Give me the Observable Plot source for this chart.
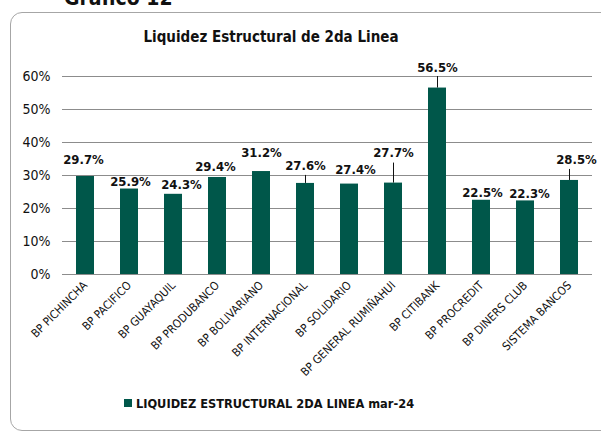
<!DOCTYPE html>
<html>
<head>
<meta charset="utf-8">
<script src="https://cdn.jsdelivr.net/npm/d3@7"></script>
<script src="https://cdn.jsdelivr.net/npm/@observablehq/plot@0.6"></script>
<style>
  html, body { margin: 0; padding: 0; background: #fff; }
  #wrap { position: relative; width: 601px; height: 436px; overflow: hidden; font-family: "DejaVu Sans Condensed", "DejaVu Sans", sans-serif; font-stretch: condensed; }
  #frame { position: absolute; left: 10px; top: 12px; width: 610px; height: 419px; border: 1.3px solid #a6a6a6; border-radius: 12px; box-sizing: border-box; }
  #grafico { position: absolute; left: 64px; top: -14px; font-size: 21px; font-weight: bold; color: #111; }
  #title { position: absolute; left: 0; width: 542px; top: 28px; text-align: center; font-size: 15px; font-weight: bold; color: #111; }
  #chart { position: absolute; left: 0; top: 0; }
  #legend { position: absolute; left: 0; width: 538px; top: 396px; text-align: center; font-size: 12.7px; font-weight: bold; color: #111; }
  #legend .sw { display: inline-block; width: 8px; height: 8px; background: #00574a; margin-right: 4px; vertical-align: 1px; }
</style>
</head>
<body>
<div id="wrap">
  <div id="grafico">Gráfico 12</div>
  <div id="frame"></div>
  <div id="title">Liquidez Estructural de 2da Linea</div>
  <div id="chart"></div>
  <div id="legend"><span class="sw"></span>LIQUIDEZ ESTRUCTURAL 2DA LINEA mar-24</div>
</div>
<script>
const categories = ["BP PICHINCHA", "BP PACIFICO", "BP GUAYAQUIL", "BP PRODUBANCO", "BP BOLIVARIANO", "BP INTERNACIONAL", "BP SOLIDARIO", "BP GENERAL RUMIÑAHUI", "BP CITIBANK", "BP PROCREDIT", "BP DINERS CLUB", "SISTEMA BANCOS"];
const values = [29.7, 25.9, 24.3, 29.4, 31.2, 27.6, 27.4, 27.7, 56.5, 22.5, 22.3, 28.5];
const yTicks = [0, 10, 20, 30, 40, 50, 60];
const seriesName = "LIQUIDEZ ESTRUCTURAL 2DA LINEA mar-24";

// label placement (annotation layout, pixels)
const labelLift = [12, 3.5, 5, 6, 15, 13, 10, 26, 16, 3, 3, 16];
const labelShift = [-2, 1, 8, -2, 0, 0, 6, 0, 0, 1, 4, 7];
const leaderLen = [0, 0, 0, 0, 0, 8, 0, 20, 11.5, 0, 0, 11];

const data = categories.map((c, i) => ({category: c, value: values[i], lift: labelLift[i], shift: labelShift[i], leader: leaderLen[i]}));

const H = 380, MT = 76, MB = 106;
const pxPerUnit = (H - MT - MB) / 60;

const labelMarks = data.map(d => Plot.text([d], {
  x: "category", y: "value", text: d => d.value.toFixed(1) + "%",
  dy: -d.lift, dx: d.shift, lineAnchor: "bottom",
  fontSize: 13, fontWeight: "bold", fill: "#111"
}));

const chart = Plot.plot({
  width: 601, height: H,
  marginTop: MT, marginBottom: MB, marginLeft: 62, marginRight: 9,
  style: {fontFamily: "'DejaVu Sans Condensed', 'DejaVu Sans', sans-serif", background: "transparent", color: "#111"},
  x: {domain: categories, paddingInner: 0.6, paddingOuter: 0.3, label: null},
  y: {domain: [0, 60], label: null},
  marks: [
    Plot.gridY(yTicks, {stroke: "#8c8c8c", strokeOpacity: 1, strokeWidth: 1}),
    Plot.barY(data, {x: "category", y: "value", fill: "#00574a"}),
    Plot.ruleX(data.filter(d => d.leader > 0), {x: "category", y1: "value", y2: d => d.value + d.leader / pxPerUnit, stroke: "#111", strokeWidth: 1}),
    ...labelMarks,
    Plot.axisY(yTicks, {tickFormat: d => d + "%", tickSize: 0, tickPadding: 12, fontSize: 14, fontStretch: "normal", label: null}),
    Plot.axisX({tickRotate: -45, tickSize: 0, tickPadding: 9, fontSize: 11.5, label: null})
  ]
});
document.getElementById("chart").appendChild(chart);
</script>
</body>
</html>
